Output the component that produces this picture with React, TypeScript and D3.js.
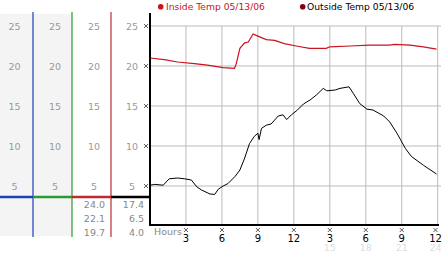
import React from 'react';
import * as d3 from 'd3';

// hours since midnight, 05/13/06
const insideHours = [0, 1.2, 2.3, 3.7, 4.8, 6.1, 7.05, 7.2, 7.5, 7.9, 8.2, 8.6, 8.9, 9.7, 10.4, 11.2, 12.2, 13.3, 14.7, 15.0, 16.7, 18.3, 20.0, 20.4, 21.7, 22.8, 23.9];
const insideTemps = [21.0, 20.8, 20.5, 20.3, 20.1, 19.8, 19.7, 20.3, 22.2, 22.9, 23.0, 24.0, 23.8, 23.3, 23.2, 22.8, 22.5, 22.2, 22.2, 22.4, 22.5, 22.6, 22.6, 22.7, 22.6, 22.4, 22.1];

const outsideHours = [0, 0.4, 1.1, 1.6, 2.3, 2.9, 3.45, 3.9, 4.3, 5.0, 5.4, 5.7, 6.1, 6.5, 7.1, 7.5, 7.9, 8.3, 8.7, 9.0, 9.1, 9.3, 9.7, 10.1, 10.4, 10.7, 11.1, 11.4, 11.8, 12.3, 12.8, 13.35, 13.9, 14.45, 14.75, 15.45, 15.85, 16.6, 16.95, 17.5, 18.1, 18.6, 19.5, 20.0, 20.6, 21.3, 21.8, 22.8, 23.9];
const outsideTemps = [5.1, 5.2, 5.1, 5.9, 6.0, 5.9, 5.75, 4.9, 4.5, 4.0, 3.95, 4.6, 5.0, 5.3, 6.2, 7.0, 8.5, 10.3, 11.2, 11.6, 10.8, 12.2, 12.6, 12.75, 13.25, 13.75, 13.9, 13.3, 13.9, 14.5, 15.25, 15.75, 16.4, 17.2, 16.9, 17.0, 17.2, 17.4, 16.6, 15.3, 14.6, 14.5, 13.75, 13.0, 11.6, 9.7, 8.7, 7.6, 6.5];

const yTicks = [5, 10, 15, 20, 25];
const hourTicks = [3, 6, 9, 12, 15, 18, 21, 24];
const hourLabels = ['3', '6', '9', '12', '3', '6', '9', '12'];
const hourLabels24 = ['15', '18', '21', '24'];

const insideStats = ['24.0', '22.1', '19.7'];
const outsideStats = ['17.4', '6.5', '4.0'];

const font = 'DejaVu Sans, Verdana, sans-serif';

const x = d3.scaleLinear().domain([0, 24]).range([150, 437.7]);
const y = d3.scaleLinear().domain([0, 25]).range([226, 26]);

const line = d3.line<[number, number]>()
  .x(d => x(d[0]))
  .y(d => y(d[1]));

// keep the last hour label inside the page
const labelX = (h: number) => Math.min(x(h), 435.5);

const Mark: React.FC<{ cx: number; cy: number }> = ({ cx, cy }) => (
  <path d={`M${cx - 2},${cy - 2}L${cx + 2},${cy + 2}M${cx - 2},${cy + 2}L${cx + 2},${cy - 2}`} stroke="#333" strokeWidth={0.8} />
);

const App: React.FC = () => {
  const inside = insideHours.map((h, i) => [h, insideTemps[i]] as [number, number]);
  const outside = outsideHours.map((h, i) => [h, outsideTemps[i]] as [number, number]);
  const colCenters = [14.5, 55, 94, 132];
  const colLines = [
    { x: 33, color: '#1c3fb8' },
    { x: 72, color: '#2a9a33' },
    { x: 111, color: '#bf2a30' },
  ];
  const barSegs = [
    { x0: 0, x1: 33, color: '#1c3fb8' },
    { x0: 33, x1: 72, color: '#2a9a33' },
    { x0: 72, x1: 111, color: '#bf2a30' },
    { x0: 111, x1: 150, color: '#000' },
  ];

  return (
    <svg width={442} height={253} style={{ position: 'absolute', left: 0, top: 0 }} fontFamily={font}>
      <rect x={0} y={0} width={442} height={253} fill="#fff" />
      {/* left panel */}
      <rect x={0} y={14} width={72} height={222} fill="#f4f4f4" />
      {colLines.map(c => (
        <line key={c.x} x1={c.x} x2={c.x} y1={12} y2={237} stroke={c.color} strokeWidth={1.2} />
      ))}
      {colCenters.map(cx => yTicks.map(t => (
        <text key={`${cx}-${t}`} x={cx} y={y(t) + 3.5} textAnchor="middle" fontSize={9.5} fill="#999">{t}</text>
      )))}
      {barSegs.map(s => (
        <line key={s.x0} x1={s.x0} x2={s.x1} y1={197} y2={197} stroke={s.color} strokeWidth={2.5} />
      ))}
      {insideStats.map((v, i) => (
        <text key={v} x={105} y={207.5 + i * 14} textAnchor="end" fontSize={9.5} fill="#888">{v}</text>
      ))}
      {outsideStats.map((v, i) => (
        <text key={v} x={144} y={207.5 + i * 14} textAnchor="end" fontSize={9.5} fill="#888">{v}</text>
      ))}

      {/* grid */}
      {yTicks.map(t => (
        <line key={t} x1={150} x2={441} y1={y(t)} y2={y(t)} stroke="#bbb" strokeWidth={1} />
      ))}
      {hourTicks.map(h => (
        <line key={h} x1={x(h)} x2={x(h)} y1={y(25)} y2={225} stroke="#bbb" strokeWidth={1} />
      ))}

      {/* series */}
      <path d={line(inside) ?? ''} fill="none" stroke="#cc1122" strokeWidth={1.2} />
      <path d={line(outside) ?? ''} fill="none" stroke="#000" strokeWidth={1} />

      {/* axes */}
      <line x1={150} x2={150} y1={13} y2={226} stroke="#000" strokeWidth={2} />
      <line x1={149} x2={439} y1={225} y2={225} stroke="#000" strokeWidth={2} />
      {yTicks.map(t => <Mark key={t} cx={146} cy={y(t)} />)}
      {hourTicks.map(h => <Mark key={h} cx={labelX(h)} cy={230} />)}
      <text x={154} y={234.5} fontSize={9.5} fill="#888">Hours</text>
      {hourTicks.map((h, i) => (
        <text key={h} x={labelX(h)} y={241.5} textAnchor="middle" fontSize={10} fill="#000">{hourLabels[i]}</text>
      ))}
      {hourTicks.slice(4).map((h, i) => (
        <text key={h} x={labelX(h)} y={251} textAnchor="middle" fontSize={9.5} fill="#ddd">{hourLabels24[i]}</text>
      ))}

      {/* legend */}
      <circle cx={160.7} cy={6.7} r={2.8} fill="#cc1122" />
      <text x={166} y={10.3} fontSize={9.2} fill="#cc1122">Inside Temp 05/13/06</text>
      <circle cx={302.7} cy={6.7} r={2.8} fill="#8a0010" />
      <text x={307} y={10.3} fontSize={9.2} fill="#000">Outside Temp 05/13/06</text>
    </svg>
  );
};

export default App;
